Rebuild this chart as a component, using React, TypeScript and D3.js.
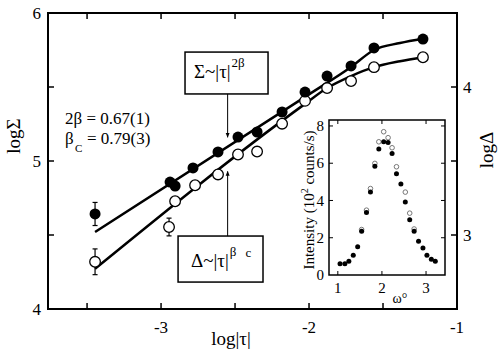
import * as d3 from 'd3';

// main panel: filled = log Sigma (left axis), open = log Delta (right axis)
const tauSigma = [-3.446, -2.939, -2.905, -2.784, -2.615, -2.48, -2.351, -2.182, -2.027, -1.878, -1.716, -1.561, -1.23];
const logSigma = [4.642, 4.858, 4.831, 4.953, 5.061, 5.162, 5.196, 5.331, 5.466, 5.574, 5.642, 5.764, 5.824];
const errSigma = [0.078, 0, 0, 0, 0, 0, 0, 0, 0, 0, 0, 0, 0];

const tauDelta = [-3.446, -2.946, -2.905, -2.77, -2.615, -2.48, -2.351, -2.182, -2.027, -1.878, -1.716, -1.561, -1.23];
const logDelta = [2.819, 3.054, 3.228, 3.336, 3.409, 3.544, 3.564, 3.752, 3.906, 3.993, 4.04, 4.134, 4.201];
const errDelta = [0.087, 0.06, 0, 0, 0, 0, 0, 0, 0, 0, 0, 0, 0];

// fitted curves
const fitSigmaTau = [-3.446, -2.0, -1.716, -1.561, -1.385, -1.23];
const fitSigma = [4.52, 5.45, 5.635, 5.75, 5.797, 5.826];
const fitDeltaTau = [-3.446, -2.027, -1.878, -1.716, -1.561, -1.385, -1.23];
const fitDelta = [2.772, 3.886, 3.993, 4.074, 4.134, 4.174, 4.201];

// inset: rocking curve
const omegaFilled = [1.05, 1.16, 1.25, 1.35, 1.45, 1.54, 1.65, 1.74, 1.84, 1.93, 2.04, 2.14, 2.23, 2.33, 2.43, 2.53, 2.63, 2.73, 2.83, 2.93, 3.02, 3.12, 3.21];
const intFilled = [0.61, 0.61, 0.74, 1.06, 1.52, 2.35, 3.35, 4.46, 5.84, 6.76, 7.15, 7.11, 6.52, 5.43, 4.89, 3.92, 2.97, 2.35, 1.81, 1.45, 1.06, 0.84, 0.74];
const omegaOpen = [1.54, 1.65, 1.74, 1.84, 1.93, 2.04, 2.14, 2.23, 2.33, 2.53, 2.63, 2.73];
const intOpen = [2.44, 3.48, 4.64, 5.99, 7.15, 7.69, 7.37, 6.83, 5.81, 4.45, 3.32, 2.47];

// ticks
const xMajor = [-3, -2, -1];
const xMinor = [-3.5, -2.5, -1.5];
const yLeftMajor = [4, 5, 6];
const yLeftMinor = [4.5, 5.5];
const yRightMajor = [3, 4];
const yRightMinor = [3.5];
const insetXTicks = [1, 2, 3];
const insetYTicks = [0, 2, 4, 6, 8];

const font = "'Liberation Serif', 'Times New Roman', serif";

export default function App() {
  const width = 500;
  const height = 358;
  const frame = { left: 48, right: 457, top: 13, bottom: 309 };

  const x = d3.scaleLinear().domain([-3.764, -1]).range([frame.left, frame.right]);
  const yL = d3.scaleLinear().domain([4, 6]).range([frame.bottom, frame.top]);
  const yR = d3.scaleLinear().domain([2.5, 4.5]).range([frame.bottom, frame.top]);

  const inset = { left: 329, right: 445, top: 120, bottom: 275 };
  const ix = d3.scaleLinear().domain([0.8, 3.43]).range([inset.left, inset.right]);
  const iy = d3.scaleLinear().domain([0, 8.32]).range([inset.bottom, inset.top]);

  const sigmaLine = d3
    .line<number>()
    .x((_, i) => x(fitSigmaTau[i]))
    .y((d) => yL(d))
    .curve(d3.curveMonotoneX);
  const deltaLine = d3
    .line<number>()
    .x((_, i) => x(fitDeltaTau[i]))
    .y((d) => yR(d))
    .curve(d3.curveMonotoneX);

  const tl = 6; // tick length

  // annotation positions in data units
  const arrowTau = -2.55;
  const box1 = { x0: -2.838, x1: -2.277, y0: 5.453, y1: 5.736 };
  const box2 = { x0: -2.885, x1: -2.311, y0: 4.182, y1: 4.493 };

  return (
    <svg
      width={width}
      height={height}
      style={{ position: 'absolute', left: 0, top: 0, background: '#fff' }}
      fontFamily={font}
    >
      <defs>
        <marker id="ah" viewBox="0 0 10 10" refX="9" refY="5" markerWidth="5" markerHeight="5" orient="auto">
          <path d="M0,1 L10,5 L0,9 z" fill="#000" />
        </marker>
      </defs>

      {/* frame */}
      <rect
        x={frame.left}
        y={frame.top}
        width={frame.right - frame.left}
        height={frame.bottom - frame.top}
        fill="none"
        stroke="#000"
        strokeWidth={2}
      />

      {/* x ticks top and bottom */}
      {[...xMajor, ...xMinor].map((t) => (
        <g key={`xt${t}`}>
          <line x1={x(t)} x2={x(t)} y1={frame.bottom} y2={frame.bottom - tl} stroke="#000" strokeWidth={1.5} />
          <line x1={x(t)} x2={x(t)} y1={frame.top} y2={frame.top + tl} stroke="#000" strokeWidth={1.5} />
        </g>
      ))}
      {xMajor.map((t) => (
        <text key={`xl${t}`} x={x(t)} y={333} fontSize={17} textAnchor="middle">
          {t}
        </text>
      ))}

      {/* left ticks */}
      {[...yLeftMajor, ...yLeftMinor].map((t) => (
        <line key={`yl${t}`} x1={frame.left} x2={frame.left + tl} y1={yL(t)} y2={yL(t)} stroke="#000" strokeWidth={1.5} />
      ))}
      {yLeftMajor.map((t) => (
        <text key={`yll${t}`} x={41} y={yL(t)} dy="0.35em" fontSize={17} textAnchor="end">
          {t}
        </text>
      ))}

      {/* right ticks */}
      {[...yRightMajor, ...yRightMinor].map((t) => (
        <line key={`yr${t}`} x1={frame.right} x2={frame.right - tl} y1={yR(t)} y2={yR(t)} stroke="#000" strokeWidth={1.5} />
      ))}
      {yRightMajor.map((t) => (
        <text key={`yrl${t}`} x={463} y={yR(t)} dy="0.35em" fontSize={17} textAnchor="start">
          {t}
        </text>
      ))}

      {/* axis titles */}
      <text x={231} y={345} fontSize={19} textAnchor="middle">
        log|τ|
      </text>
      <text transform="translate(20,136) rotate(-90)" fontSize={19} textAnchor="middle">
        logΣ
      </text>
      <text transform="translate(493,150) rotate(-90)" fontSize={19} textAnchor="middle">
        logΔ
      </text>

      {/* fitted curves */}
      <path d={sigmaLine(fitSigma) ?? ''} fill="none" stroke="#000" strokeWidth={2.5} />
      <path d={deltaLine(fitDelta) ?? ''} fill="none" stroke="#000" strokeWidth={2.5} />

      {/* error bars */}
      {errSigma.map((e, i) =>
        e > 0 ? (
          <g key={`es${i}`} stroke="#000" strokeWidth={1.2}>
            <line x1={x(tauSigma[i])} x2={x(tauSigma[i])} y1={yL(logSigma[i] - e)} y2={yL(logSigma[i] + e)} />
            <line x1={x(tauSigma[i]) - 2.5} x2={x(tauSigma[i]) + 2.5} y1={yL(logSigma[i] - e)} y2={yL(logSigma[i] - e)} />
            <line x1={x(tauSigma[i]) - 2.5} x2={x(tauSigma[i]) + 2.5} y1={yL(logSigma[i] + e)} y2={yL(logSigma[i] + e)} />
          </g>
        ) : null
      )}
      {errDelta.map((e, i) =>
        e > 0 ? (
          <g key={`ed${i}`} stroke="#000" strokeWidth={1.2}>
            <line x1={x(tauDelta[i])} x2={x(tauDelta[i])} y1={yR(logDelta[i] - e)} y2={yR(logDelta[i] + e)} />
            <line x1={x(tauDelta[i]) - 2.5} x2={x(tauDelta[i]) + 2.5} y1={yR(logDelta[i] - e)} y2={yR(logDelta[i] - e)} />
            <line x1={x(tauDelta[i]) - 2.5} x2={x(tauDelta[i]) + 2.5} y1={yR(logDelta[i] + e)} y2={yR(logDelta[i] + e)} />
          </g>
        ) : null
      )}

      {/* markers */}
      {logDelta.map((v, i) => (
        <circle key={`od${i}`} cx={x(tauDelta[i])} cy={yR(v)} r={5.3} fill="#fff" stroke="#000" strokeWidth={1.3} />
      ))}
      {logSigma.map((v, i) => (
        <circle key={`fs${i}`} cx={x(tauSigma[i])} cy={yL(v)} r={5.5} fill="#000" />
      ))}

      {/* exponent notes */}
      <text x={65} y={124} fontSize={17}>
        2β = 0.67(1)
      </text>
      <text x={65} y={144} fontSize={17}>
        β
      </text>
      <text x={75} y={152} fontSize={11}>
        C
      </text>
      <text x={87} y={144} fontSize={17}>
        = 0.79(3)
      </text>

      {/* annotation box for Sigma */}
      <rect
        x={x(box1.x0)}
        y={yL(box1.y1)}
        width={x(box1.x1) - x(box1.x0)}
        height={yL(box1.y0) - yL(box1.y1)}
        fill="#fff"
        stroke="#000"
        strokeWidth={1.5}
      />
      <text x={x(box1.x0) + 9} y={yL(box1.y1) + 26} fontSize={19}>
        Σ~|τ|
        <tspan dx={1} dy={-11} fontSize={13}>
          2β
        </tspan>
      </text>
      <line
        x1={x(arrowTau)}
        x2={x(arrowTau)}
        y1={yL(box1.y0)}
        y2={yL(5.16)}
        stroke="#000"
        strokeWidth={1}
        markerEnd="url(#ah)"
      />

      {/* annotation box for Delta */}
      <rect
        x={x(box2.x0)}
        y={yL(box2.y1)}
        width={x(box2.x1) - x(box2.x0)}
        height={yL(box2.y0) - yL(box2.y1)}
        fill="#fff"
        stroke="#000"
        strokeWidth={1.5}
      />
      <text x={x(box2.x0) + 13} y={yL(box2.y0) - 15} fontSize={19}>
        Δ~|τ|
        <tspan dx={1} dy={-11} fontSize={13}>
          β
        </tspan>
        <tspan dx={9} dy={1} fontSize={13}>
          c
        </tspan>
      </text>
      <line
        x1={x(arrowTau)}
        x2={x(arrowTau)}
        y1={yL(box2.y1)}
        y2={yR(3.43)}
        stroke="#000"
        strokeWidth={1}
        markerEnd="url(#ah)"
      />

      {/* inset */}
      <rect
        x={inset.left}
        y={inset.top}
        width={inset.right - inset.left}
        height={inset.bottom - inset.top}
        fill="#fff"
        stroke="#000"
        strokeWidth={1.5}
      />
      {insetXTicks.map((t) => (
        <g key={`ixt${t}`}>
          <line x1={ix(t)} x2={ix(t)} y1={inset.bottom} y2={inset.bottom - 4} stroke="#000" strokeWidth={1} />
          <line x1={ix(t)} x2={ix(t)} y1={inset.top} y2={inset.top + 4} stroke="#000" strokeWidth={1} />
          <text x={ix(t)} y={293} fontSize={15} textAnchor="middle">
            {t}
          </text>
        </g>
      ))}
      {insetYTicks.map((t) => (
        <g key={`iyt${t}`}>
          {t > 0 && (
            <>
              <line x1={inset.left} x2={inset.left + 4} y1={iy(t)} y2={iy(t)} stroke="#000" strokeWidth={1} />
              <line x1={inset.right} x2={inset.right - 4} y1={iy(t)} y2={iy(t)} stroke="#000" strokeWidth={1} />
            </>
          )}
          <text x={324} y={iy(t)} dy="0.35em" fontSize={15} textAnchor="end">
            {t}
          </text>
        </g>
      ))}
      <text transform="translate(314,200) rotate(-90)" fontSize={15} textAnchor="middle">
        Intensity (10<tspan dy="-6" fontSize={10}>2</tspan>
        <tspan dy="6"> counts/s)</tspan>
      </text>
      <text x={400} y={303} fontSize={14} textAnchor="middle">
        ω°
      </text>
      {intOpen.map((v, i) => (
        <circle key={`io${i}`} cx={ix(omegaOpen[i])} cy={iy(v)} r={2.3} fill="#fff" stroke="#777" strokeWidth={1} />
      ))}
      {intFilled.map((v, i) => (
        <circle key={`if${i}`} cx={ix(omegaFilled[i])} cy={iy(v)} r={2.5} fill="#000" />
      ))}
    </svg>
  );
}
